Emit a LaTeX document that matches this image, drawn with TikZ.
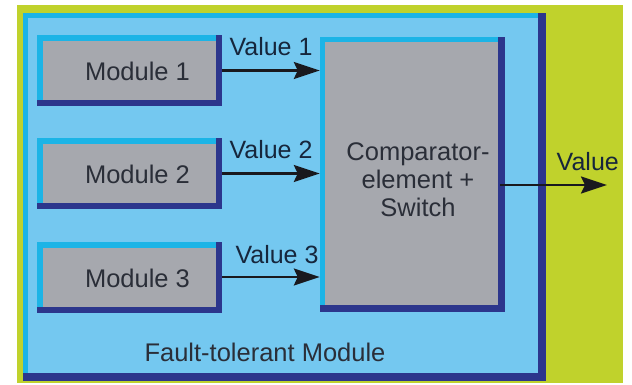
\documentclass[tikz,border=0pt]{standalone}
\usepackage{fontspec}
\setmainfont{Liberation Sans}
\usetikzlibrary{arrows.meta}
\definecolor{bggreen}{RGB}{192,210,44}
\definecolor{lightb}{RGB}{116,200,240}
\definecolor{cyanb}{RGB}{28,180,230}
\definecolor{darkb}{RGB}{44,54,140}
\definecolor{boxgray}{RGB}{166,168,174}
\definecolor{txt}{RGB}{42,46,56}
\definecolor{vtxt}{RGB}{22,38,60}
\definecolor{arrc}{RGB}{25,25,30}
\tikzset{
  bevelbox/.style args={#1/#2/#3}{rectangle, draw=none, inner sep=0pt,
    path picture={
      \fill[darkb] (path picture bounding box.south west) rectangle (path picture bounding box.north east);
      \fill[cyanb] (path picture bounding box.north west) rectangle ([xshift=-#2,yshift=#2]path picture bounding box.south east);
      \fill[#3] ([xshift=#1,yshift=-#1]path picture bounding box.north west) rectangle ([xshift=-#2,yshift=#2]path picture bounding box.south east);
    }},
  modbox/.style={bevelbox=6pt/6pt/boxgray, minimum width=185pt, minimum height=71pt},
  lbl/.style={font=\fontsize{25.5}{28}\selectfont, text=txt, align=center},
  vlbl/.style={font=\fontsize{25}{28}\selectfont, text=vtxt},
  arr/.style={draw=arrc, line width=2.4pt, -{Stealth[length=26pt,width=17pt,inset=4pt]}},
}
\begin{document}
\begin{tikzpicture}[x=1pt,y=-1pt]
\useasboundingbox (0,0) rectangle (632,385);
\fill[bggreen] (17,5) rectangle (623,383);
\node[bevelbox=5pt/8pt/lightb, minimum width=523pt, minimum height=368pt] (outer) at (284.5,197) {};
\node[modbox, label={[lbl,xshift=8pt,yshift=-1pt]center:Module 1}] (m1) at (129.5,70.5) {};
\node[modbox, label={[lbl,xshift=8pt,yshift=-1pt]center:Module 2}] (m2) at (129.5,173.5) {};
\node[modbox, label={[lbl,xshift=8pt,yshift=-1pt]center:Module 3}] (m3) at (129.5,277) {};
\node[bevelbox=5pt/7pt/boxgray, minimum width=185pt, minimum height=275pt,
  label={[lbl,xshift=5.5pt,yshift=-5.5pt]center:Comparator-\\element +\\Switch}] (comp) at (412.5,174.5) {};
\node[lbl] (ft) at (265,352) {Fault-tolerant Module};
\coordinate (outp) at (607,185);
\draw[arr] (m1.east) -- node[vlbl, midway, yshift=24pt] {Value 1} (comp.west |- m1.east);
\draw[arr] (m2.east) -- node[vlbl, midway, yshift=24pt] {Value 2} (comp.west |- m2.east);
\draw[arr] (m3.east) -- node[vlbl, midway, xshift=6pt, yshift=22pt] {Value 3} (comp.west |- m3.east);
\draw[arr] ([xshift=-5pt]comp.east |- outp) -- node[vlbl, pos=0.82, yshift=23pt] {Value} (outp);
\end{tikzpicture}
\end{document}
